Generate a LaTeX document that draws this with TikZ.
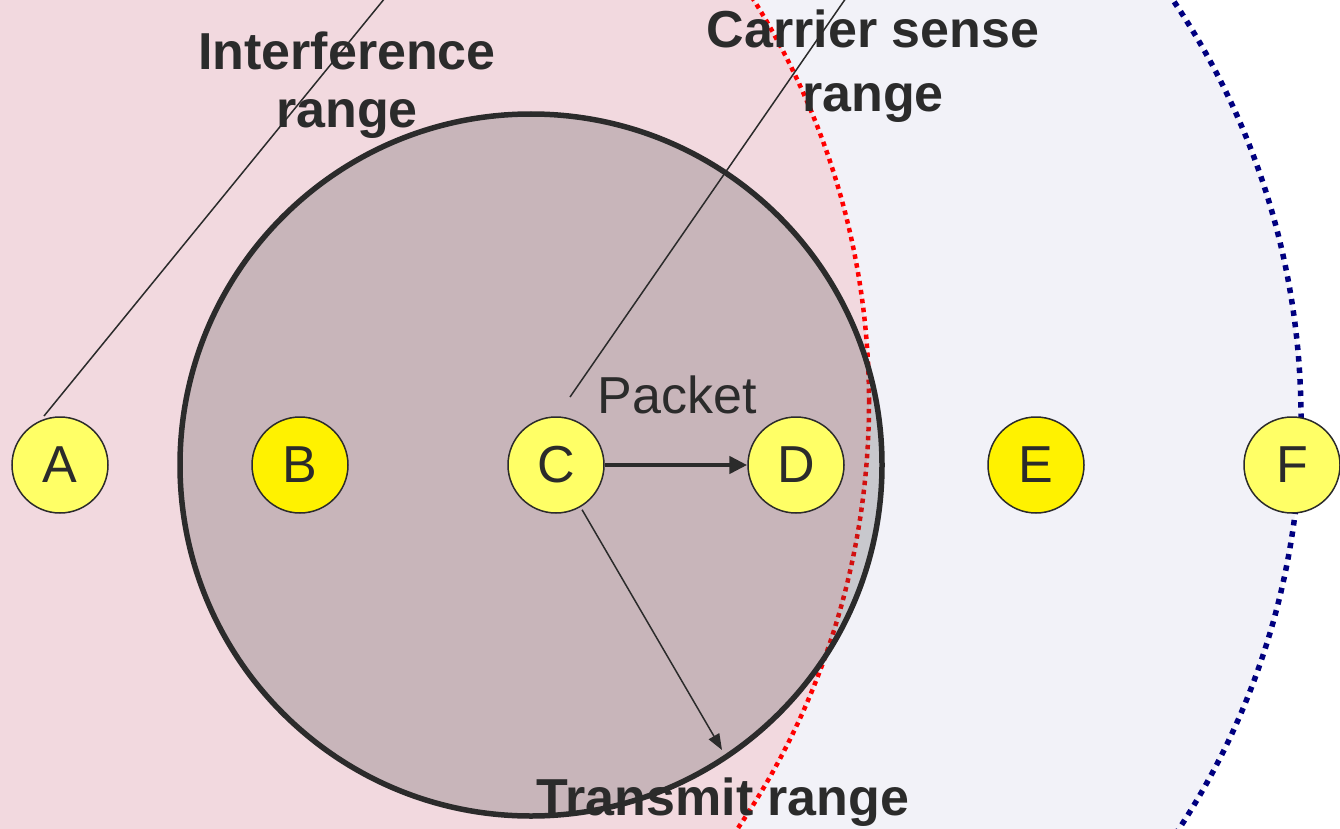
\documentclass[tikz,border=0pt]{standalone}
\usepackage{fontspec}
\setmainfont{Liberation Sans}
\usetikzlibrary{arrows.meta}
\definecolor{pinkbg}{RGB}{242,217,223}
\definecolor{lavbg}{RGB}{242,242,248}
\definecolor{ink}{RGB}{43,43,43}
\definecolor{navyd}{RGB}{0,0,128}
\definecolor{lightyel}{RGB}{255,255,102}
\definecolor{txgray}{RGB}{70,70,70}
\tikzset{
  station/.style={circle, draw=ink, line width=1.5pt, minimum size=96pt, inner sep=0pt,
    font=\fontsize{52}{60}\selectfont, text=ink},
  labeltext/.style={font=\bfseries\fontsize{52}{60}\selectfont, text=ink, anchor=base, inner sep=0pt},
  leader/.style={draw=ink, line width=1.5pt},
}
\begin{document}
\begin{tikzpicture}[x=1pt,y=-1pt]
\useasboundingbox (0,0) rectangle (1340,829);
\fill[white] (0,0) rectangle (1340,829);
\clip (0,0) rectangle (1340,829);
% ranges
\fill[lavbg] (552,419) circle[radius=749pt];
\fill[pinkbg] (111,402) circle[radius=758pt];
\draw[navyd, line width=5.5pt, dash pattern=on 5.5pt off 6pt] (552,419) circle[radius=749pt];
\draw[red, line width=4.5pt, dash pattern=on 4.5pt off 4.5pt] (111,402) circle[radius=758pt];
% transmit range
\fill[txgray, opacity=0.24] (531,465) circle[radius=351pt];
\draw[ink, line width=5.5pt] (531,465) circle[radius=351pt];
% texts
\node[labeltext] (intf1) at (347,70) {Interference};
\node[labeltext] (intf2) at (347,128) {range};
\node[labeltext] (cs1) at (873,48) {Carrier sense};
\node[labeltext] (cs2) at (873,112) {range};
\node[labeltext] (tx) at (723,815) {Transmit range};
\node[font=\fontsize{52}{60}\selectfont, text=ink, anchor=base, inner sep=0pt] (pk) at (677,413) {Packet};
% stations
\node[station, fill=lightyel] (A) at (60,465) {A};
\node[station, fill=yellow] (B) at (300,465) {B};
\node[station, fill=lightyel] (C) at (556,465) {C};
\node[station, fill=lightyel] (D) at (796,465) {D};
\node[station, fill=yellow] (E) at (1036,465) {E};
\node[station, fill=lightyel] (F) at (1292,465) {F};
% leader lines
\coordinate (a1) at (44,416);
\coordinate (la) at (385,-2);
\coordinate (lc0) at (570,397);
\coordinate (lc) at (846,-2);
\coordinate (txend) at (722,750);
\draw[leader] (a1) -- (la);
\draw[leader] (lc0) -- (lc);
% arrows
\draw[ink, line width=4.5pt, -{Triangle[length=18pt,width=17pt]}] (C) -- (D);
\draw[ink, line width=1.5pt, -{Triangle[length=16pt,width=12pt]}, shorten <=3pt] (C) -- (txend);
\end{tikzpicture}
\end{document}
